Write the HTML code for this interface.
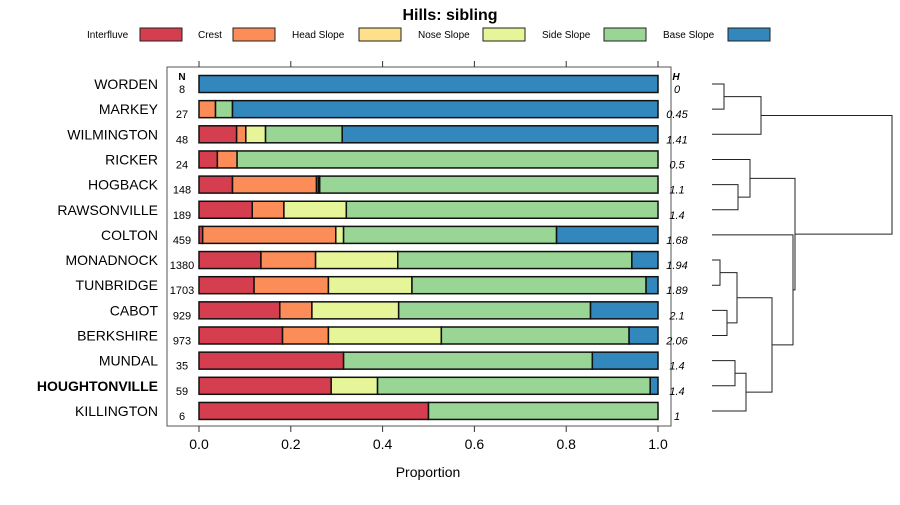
<!DOCTYPE html>
<html><head><meta charset="utf-8"><style>
body{margin:0;background:#fff;}
svg{font-family:"Liberation Sans",sans-serif;}
</style></head><body>
<svg id="c" width="900" height="500" xmlns="http://www.w3.org/2000/svg">
<text x="450" y="20" text-anchor="middle" font-size="16" font-weight="bold">Hills: sibling</text>
<g id="legend"></g>
<rect x="167" y="67" width="504" height="359" fill="none" stroke="#555"/>
<g id="bars"></g>
<g id="axis"></g>
<text x="428" y="477" text-anchor="middle" font-size="14">Proportion</text>
<g id="dendro" stroke="#222" fill="none" stroke-width="1"></g>
</svg>
<script>
const categories=["WORDEN","MARKEY","WILMINGTON","RICKER","HOGBACK","RAWSONVILLE","COLTON","MONADNOCK","TUNBRIDGE","CABOT","BERKSHIRE","MUNDAL","HOUGHTONVILLE","KILLINGTON"];
const nValues=[8,27,48,24,148,189,459,1380,1703,929,973,35,59,6];
const hValues=["0","0.45","1.41","0.5","1.1","1.4","1.68","1.94","1.89","2.1","2.06","1.4","1.4","1"];
const seriesNames=["Interfluve","Crest","Head Slope","Nose Slope","Side Slope","Base Slope"];
const interfluve=[0,0,0.082,0.04,0.073,0.116,0.008,0.135,0.12,0.176,0.182,0.315,0.288,0.5];
const crest=[0,0.036,0.02,0.043,0.183,0.069,0.29,0.119,0.162,0.07,0.1,0,0,0];
const headSlope=[0,0,0,0,0.004,0,0,0,0,0,0,0,0,0];
const noseSlope=[0,0,0.043,0,0.003,0.136,0.017,0.179,0.182,0.189,0.246,0,0.101,0];
const sideSlope=[0,0.037,0.167,0.917,0.737,0.679,0.464,0.51,0.51,0.418,0.409,0.542,0.594,0.5];
const baseSlope=[1,0.927,0.688,0,0,0,0.221,0.057,0.026,0.147,0.063,0.143,0.017,0];
const xTicks=[0,0.2,0.4,0.6,0.8,1.0];
const colors=["#D53E4F","#FC8D59","#FEE08B","#E6F598","#99D594","#3288BD"];
const series=[interfluve,crest,headSlope,noseSlope,sideSlope,baseSlope];
const NS="http://www.w3.org/2000/svg";
const X=v=>199+v*459;
const Y=i=>84+i*25.15;
function mk(t,a,p){const e=document.createElementNS(NS,t);for(const k in a)e.setAttribute(k,a[k]);p.appendChild(e);return e;}
const bars=document.getElementById('bars');
categories.forEach((c,i)=>{
  const lab=mk('text',{x:158,y:Y(i)+5,'text-anchor':'end','font-size':14,'font-weight':c==="HOUGHTONVILLE"?'bold':'normal'},bars);lab.textContent=c;
  
  
  const n=mk('text',{x:182,y:Y(i)+9,'text-anchor':'middle','font-size':11},bars);n.textContent=nValues[i];
  
  
  const h=mk('text',{x:677,y:Y(i)+9,'text-anchor':'middle','font-size':11,'font-style':'italic'},bars);h.textContent=hValues[i];
  
  
  let cum=0;
  series.forEach((s,k)=>{const v=s[i];if(v<=0)return;
    const r=mk('rect',{x:X(cum),y:Y(i)-8.5,width:X(cum+v)-X(cum),height:17,fill:colors[k],stroke:'#111','stroke-width':1.5},bars);
    
    
    cum+=v;});
});
let t=mk('text',{x:182,y:80,'text-anchor':'middle','font-size':10,'font-weight':'bold'},bars);t.textContent="N";
let t2=mk('text',{x:676,y:80,'text-anchor':'middle','font-size':10,'font-weight':'bold','font-style':'italic'},bars);t2.textContent="H";
const ax=document.getElementById('axis');
xTicks.forEach(v=>{
  mk('line',{x1:X(v),x2:X(v),y1:426,y2:432,stroke:'#333'},ax);
  mk('line',{x1:X(v),x2:X(v),y1:61,y2:67,stroke:'#333'},ax);
  const tx=mk('text',{x:X(v),y:449,'text-anchor':'middle','font-size':14},ax);tx.textContent=v.toFixed(1);
  
  
});
const leg=document.getElementById('legend');
const legText=[87,198,292,418,542,663],legBox=[140,233,359,483,604,728];
seriesNames.forEach((s,k)=>{
  const tt=mk('text',{x:legText[k],y:38,'text-anchor':'start','font-size':10},leg);tt.textContent=s;
  
  
  const b=mk('rect',{x:legBox[k],y:28,width:42,height:13,fill:colors[k],stroke:'#222'},leg);
  
  
});
const merges=[[0,1,724],[14,2,761],[4,5,738],[3,16,750],[7,8,720],[9,10,727],[18,19,737],[11,12,735],[21,13,746],[20,22,772],[6,23,793],[17,24,795],[15,25,892]];
const dd=document.getElementById('dendro');
const pos={};categories.forEach((c,i)=>pos[i]={x:712,y:Y(i)});
merges.forEach((m,j)=>{const a=pos[m[0]],b=pos[m[1]],x=m[2];
  mk('path',{d:`M${a.x},${a.y}H${x}V${b.y}H${b.x}`},dd);
  pos[14+j]={x:x,y:(a.y+b.y)/2};});
</script>
</body></html>
